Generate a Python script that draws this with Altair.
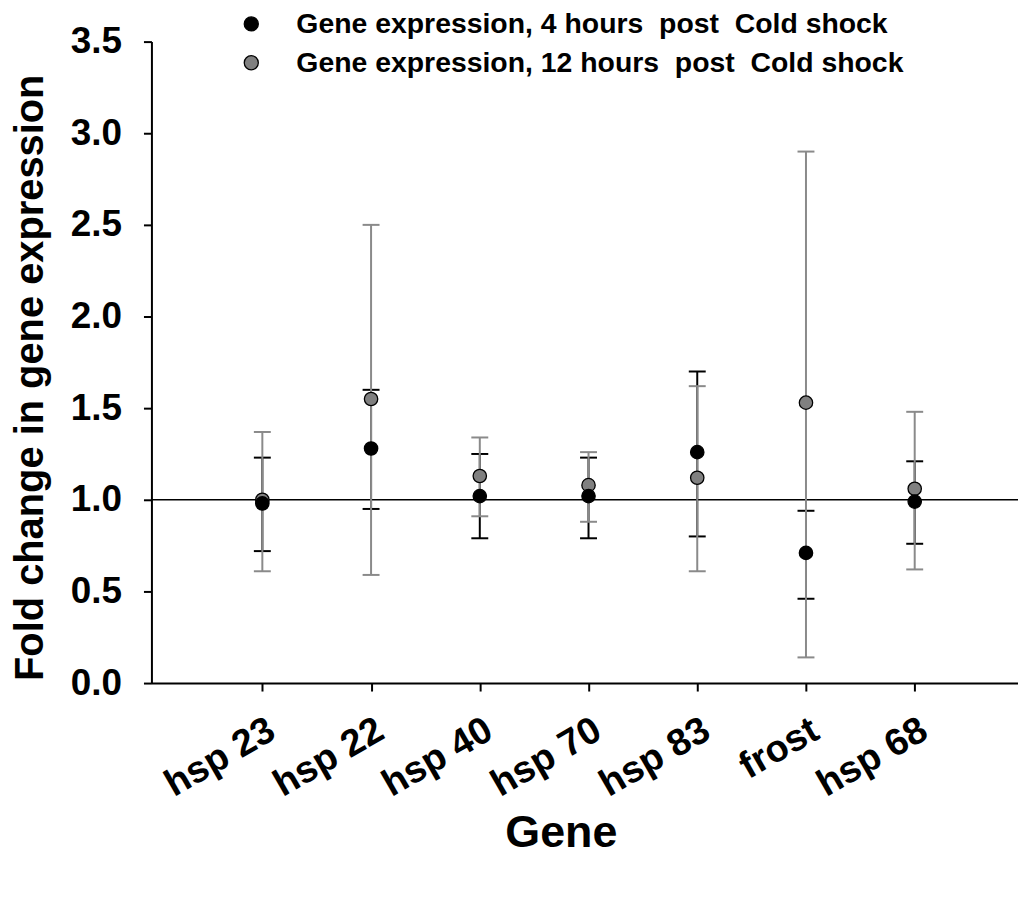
import altair as alt
import pandas as pd

genes = ["hsp 23", "hsp 22", "hsp 40", "hsp 70", "hsp 83", "frost", "hsp 68"]
positions = [1, 2, 3, 4, 5, 6, 7]

series_4h = "Gene expression, 4 hours\u00a0 post\u00a0 Cold shock"
series_12h = "Gene expression, 12 hours\u00a0 post\u00a0 Cold shock"

mean_4h = [0.98, 1.28, 1.02, 1.02, 1.26, 0.71, 0.99]
low_4h = [0.72, 0.95, 0.79, 0.79, 0.80, 0.46, 0.76]
high_4h = [1.23, 1.60, 1.25, 1.23, 1.70, 0.94, 1.21]

mean_12h = [1.00, 1.55, 1.13, 1.08, 1.12, 1.53, 1.06]
low_12h = [0.61, 0.59, 0.91, 0.88, 0.61, 0.14, 0.62]
high_12h = [1.37, 2.50, 1.34, 1.26, 1.62, 2.90, 1.48]

rows = []
for i, g in enumerate(genes):
    rows.append({"gene": g, "pos": positions[i], "series": series_4h,
                 "mean": mean_4h[i], "lo": low_4h[i], "hi": high_4h[i]})
for i, g in enumerate(genes):
    rows.append({"gene": g, "pos": positions[i], "series": series_12h,
                 "mean": mean_12h[i], "lo": low_12h[i], "hi": high_12h[i]})
df = pd.DataFrame(rows)

FONT = "Liberation Sans, Arial, sans-serif"
label_expr = "[''," + ",".join("'" + g + "'" for g in genes) + "][datum.value]"

x_enc = alt.X(
    "pos:Q",
    scale=alt.Scale(domain=[-0.02, 7.95], nice=False, zero=False),
    axis=alt.Axis(
        values=positions, labelExpr=label_expr, title="Gene",
        labelAngle=330, labelAlign="right", labelBaseline="top",
        labelFontSize=38, labelFont=FONT, labelFontWeight="bold",
        labelPadding=20, tickSize=8, tickWidth=2, tickColor="black",
        labelOverlap=False, labelBound=False, labelFlush=False,
        domainColor="black", domainWidth=2, grid=False,
        titleFontSize=45, titleFont=FONT, titleFontWeight="bold",
        titleX=411, titleY=164, titleBaseline="alphabetic",
        titleAlign="center", labelColor="black", titleColor="black",
    ),
)
y_scale = alt.Scale(domain=[0, 3.5], nice=False, zero=True)
y_axis = alt.Axis(
    values=[0, 0.5, 1.0, 1.5, 2.0, 2.5, 3.0, 3.5], format=".1f",
    title="Fold change in gene expression",
    labelFontSize=37, labelFont=FONT, labelFontWeight="bold",
    labelPadding=22, tickSize=8, tickWidth=2, tickColor="black",
    labelOverlap=False, labelBound=False, labelFlush=False,
    domainColor="black", domainWidth=2, grid=False,
    titleFontSize=40, titleFont=FONT, titleFontWeight="bold",
    titleAngle=270, titleX=-109, titleY=337, titleBaseline="alphabetic",
    titleAlign="center", labelColor="black", titleColor="black",
)

base = alt.Chart(df)

ref = alt.Chart(pd.DataFrame({"ref": [1.0]})).mark_rule(
    color="black", strokeWidth=1.5
).encode(y=alt.Y("ref:Q", scale=y_scale, axis=y_axis))

def bars(series, color, width):
    sub = base.transform_filter(alt.datum.series == series)
    rule = sub.mark_rule(color=color, strokeWidth=width).encode(
        x=x_enc, y=alt.Y("lo:Q", scale=y_scale, axis=y_axis), y2="hi:Q"
    )
    cap_lo = sub.mark_tick(color=color, orient="horizontal", size=17, thickness=width, opacity=1).encode(
        x=x_enc, y=alt.Y("lo:Q", scale=y_scale, axis=y_axis)
    )
    cap_hi = sub.mark_tick(color=color, orient="horizontal", size=17, thickness=width, opacity=1).encode(
        x=x_enc, y=alt.Y("hi:Q", scale=y_scale, axis=y_axis)
    )
    return rule + cap_lo + cap_hi

bars_4h = bars(series_4h, "black", 2)
bars_12h = bars(series_12h, "#8a8a8a", 2)

points = base.mark_point(filled=True, size=180, stroke="black", strokeWidth=1.3, opacity=1).encode(
    x=x_enc,
    y=alt.Y("mean:Q", scale=y_scale, axis=y_axis),
    color=alt.Color(
        "series:N",
        scale=alt.Scale(domain=[series_4h, series_12h], range=["black", "#808080"]),
        legend=alt.Legend(
            title=None, orient="none", legendX=86, legendY=-32, padding=0,
            labelFontSize=28.5, labelFont=FONT, labelFontWeight="bold", labelColor="black",
            symbolType="circle", symbolSize=200, symbolStrokeColor="black",
            symbolStrokeWidth=1.3, symbolOpacity=1, labelOffset=31, rowPadding=10,
            labelLimit=800,
        ),
    ),
    order=alt.Order("series:N", sort="ascending"),
)

chart = alt.layer(ref, bars_4h, bars_12h, points).properties(
    width=870, height=644,
    padding={"left": 144, "top": 32, "right": 0, "bottom": 200},
    autosize=alt.AutoSizeParams(type="none"),
    background="white",
).configure_view(stroke=None)

chart.save("out.html", embed_options={"renderer": "svg", "actions": False})
